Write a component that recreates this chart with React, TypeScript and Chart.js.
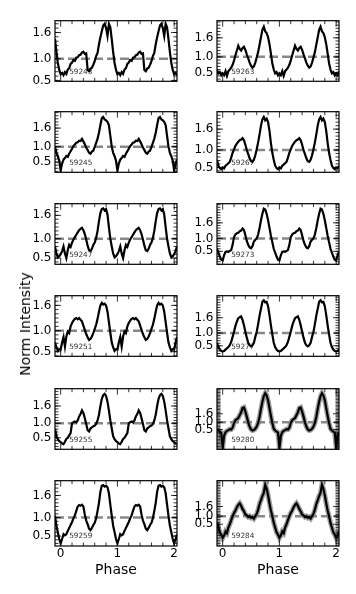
import React, { useEffect, useRef } from "react";
import { Chart, registerables } from "chart.js";

Chart.register(...registerables);

// ---------- data ----------
const PHASE_STEP = 0.025; // one period sampled at 40 phase bins
const X_MIN = -0.1;
const X_MAX = 2.05;
const X_MAJOR_TICKS = [0, 1, 2];
const Y_TICKS = [0.5, 1.0, 1.6];
const REF_LEVEL = 1.0;

const MJD_LABELS = [
  "59243", "59245", "59247", "59251", "59255", "59259",
  "59263", "59267", "59273", "59277", "59280", "59284",
];

const P59243 = [0.64, 0.67, 0.62, 0.69, 0.65, 0.75, 0.78, 0.88, 0.91, 0.97, 0.95, 1.02, 1.03, 1.08, 1.09, 1.14, 1.16, 1.11, 1.12, 0.74, 0.71, 0.77, 0.79, 0.86, 0.94, 1.06, 1.13, 1.33, 1.49, 1.63, 1.76, 1.80, 1.70, 1.52, 1.80, 1.72, 1.45, 1.15, 0.90, 0.74];
const P59245 = [0.22, 0.45, 0.58, 0.63, 0.70, 0.67, 0.77, 0.85, 0.93, 1.02, 1.07, 1.13, 1.14, 1.19, 1.18, 1.25, 1.17, 1.08, 0.97, 0.89, 0.80, 0.77, 0.84, 0.87, 0.99, 1.12, 1.26, 1.45, 1.70, 1.92, 1.96, 1.88, 1.85, 1.80, 1.70, 1.35, 1.00, 0.80, 0.69, 0.55];
const P59247 = [0.60, 0.68, 0.80, 0.62, 0.50, 0.70, 0.84, 0.79, 0.90, 0.98, 1.04, 1.10, 1.16, 1.22, 1.25, 1.28, 1.22, 1.12, 0.98, 0.82, 0.70, 0.68, 0.74, 0.84, 0.90, 1.02, 1.20, 1.45, 1.66, 1.76, 1.78, 1.73, 1.76, 1.62, 1.30, 1.00, 0.80, 0.62, 0.52, 0.55];
const P59251 = [0.55, 0.72, 0.85, 0.62, 0.86, 0.98, 0.94, 1.10, 1.18, 1.24, 1.28, 1.30, 1.27, 1.30, 1.26, 1.22, 1.12, 1.02, 0.92, 0.84, 0.78, 0.80, 0.86, 0.94, 1.04, 1.14, 1.28, 1.45, 1.60, 1.66, 1.62, 1.64, 1.60, 1.45, 1.20, 0.95, 0.72, 0.60, 0.52, 0.56];
const P59255 = [0.35, 0.30, 0.28, 0.36, 0.46, 0.50, 0.58, 0.66, 1.00, 1.04, 1.06, 1.03, 1.10, 1.24, 1.32, 1.45, 1.36, 1.18, 0.98, 0.76, 0.72, 0.82, 0.86, 0.90, 0.92, 0.98, 1.10, 1.30, 1.60, 1.85, 1.98, 2.02, 1.95, 1.75, 1.45, 1.10, 0.82, 0.55, 0.45, 0.38];
const P59259 = [0.30, 0.42, 0.55, 0.52, 0.55, 0.64, 0.72, 0.80, 0.88, 0.98, 1.06, 1.18, 1.30, 1.34, 1.32, 1.35, 1.30, 1.08, 0.92, 0.82, 0.70, 0.66, 0.72, 0.80, 0.86, 0.98, 1.18, 1.40, 1.70, 1.86, 1.88, 1.84, 1.86, 1.82, 1.66, 1.35, 1.05, 0.78, 0.60, 0.42];
const P59263 = [0.48, 0.42, 0.55, 0.40, 0.55, 0.60, 0.66, 0.75, 0.88, 1.05, 1.20, 1.35, 1.25, 1.20, 1.28, 1.32, 1.22, 1.08, 0.95, 0.82, 0.72, 0.66, 0.70, 0.82, 0.98, 1.15, 1.38, 1.62, 1.85, 1.95, 1.80, 1.75, 1.62, 1.40, 1.10, 0.80, 0.60, 0.48, 0.52, 0.42];
const P59267 = [0.50, 0.47, 0.55, 0.58, 0.62, 0.66, 0.78, 0.92, 1.02, 1.12, 1.18, 1.24, 1.28, 1.30, 1.34, 1.28, 1.15, 1.00, 0.88, 0.76, 0.68, 0.66, 0.72, 0.85, 1.02, 1.22, 1.45, 1.70, 1.88, 1.95, 1.85, 1.90, 1.80, 1.55, 1.20, 0.92, 0.72, 0.55, 0.48, 0.45];
const P59273 = [0.15, 0.35, 0.48, 0.50, 0.48, 0.52, 0.55, 0.75, 1.05, 1.15, 1.20, 1.22, 1.28, 1.30, 1.38, 1.32, 1.12, 0.90, 0.75, 0.65, 0.62, 0.70, 0.88, 0.95, 1.00, 1.15, 1.40, 1.70, 1.95, 2.15, 2.12, 1.95, 1.70, 1.40, 1.10, 0.85, 0.60, 0.45, 0.30, 0.18];
const P59277 = [0.28, 0.30, 0.35, 0.40, 0.45, 0.52, 0.65, 0.85, 1.05, 1.28, 1.45, 1.58, 1.62, 1.65, 1.52, 1.30, 1.05, 0.82, 0.62, 0.52, 0.48, 0.52, 0.62, 0.85, 1.05, 1.35, 1.68, 1.95, 2.22, 2.28, 2.20, 2.22, 2.05, 1.70, 1.30, 0.95, 0.62, 0.45, 0.35, 0.30];
const P59280 = [-0.80, 0.05, 0.30, 0.40, 0.45, 0.52, 0.50, 0.62, 0.95, 1.15, 1.22, 1.30, 1.50, 1.70, 2.00, 2.05, 1.75, 1.40, 1.00, 0.70, 0.50, 0.42, 0.45, 0.55, 0.70, 0.95, 1.40, 1.95, 2.45, 2.85, 3.05, 2.90, 2.55, 2.00, 1.45, 0.95, 0.55, 0.42, 0.35, 0.28];
const P59284 = [-0.35, -0.20, 0.05, -0.05, 0.30, 0.50, 0.75, 1.00, 1.20, 1.35, 1.55, 1.70, 1.80, 1.65, 1.45, 1.30, 1.10, 1.05, 0.95, 1.00, 0.90, 0.95, 0.85, 1.00, 1.15, 1.40, 1.75, 2.00, 2.25, 2.45, 2.95, 2.70, 2.30, 1.80, 1.35, 1.00, 0.60, 0.30, 0.00, -0.15];

const PROFILES = [P59243, P59245, P59247, P59251, P59255, P59259, P59263, P59267, P59273, P59277, P59280, P59284];
const Y_MIN = [0.48, 0.17, 0.34, 0.39, 0.10, 0.23, 0.23, 0.36, 0.00, 0.09, -0.90, -0.85];
const Y_MAX = [1.87, 2.13, 1.90, 1.83, 2.20, 2.00, 2.14, 2.10, 2.34, 2.46, 3.37, 3.20];
const WITH_ERRORS = [false, false, false, false, false, false, false, false, false, false, true, true];

// ---------- layout ----------
const FONT = "'DejaVu Sans', sans-serif";
const COL_LEFT = [55, 217];
const ROW_TOP = [16, 107, 199, 291, 384, 476];
const AX_W = 122;
const AX_H = 70;
const Y_AXIS_W = 40;
const PAD_T = 6;
const PAD_R = 6;
const PAD_B = 6;
const BOTTOM_AXIS_H = 33;

function buildSeries(profile: number[]) {
  const n = profile.length;
  const kStart = Math.round(X_MIN / PHASE_STEP);
  const kEnd = Math.round(X_MAX / PHASE_STEP);
  const pts: { x: number; y: number }[] = [];
  for (let k = kStart; k <= kEnd; k++) {
    pts.push({ x: k * PHASE_STEP, y: profile[((k % n) + n) % n] });
  }
  return pts;
}

function makeDecor(label: string) {
  return {
    id: "panelDecor",
    beforeDatasetsDraw(chart: any) {
      const { ctx, chartArea, scales } = chart;
      ctx.save();
      ctx.font = `7.3px ${FONT}`;
      ctx.fillStyle = "#333333";
      ctx.textAlign = "left";
      ctx.textBaseline = "middle";
      ctx.fillText(label, scales.x.getPixelForValue(0.15), chartArea.bottom - 9.5);
      ctx.restore();
    },
    afterDraw(chart: any) {
      const { ctx, chartArea: a, scales } = chart;
      const xs = scales.x;
      const ys = scales.y;
      ctx.save();
      ctx.strokeStyle = "#000";
      ctx.lineWidth = 0.8;
      ctx.beginPath();
      // x ticks: majors at integers, minors every 0.2
      for (let k = 0; k <= 10; k++) {
        const v = k / 5;
        const px = xs.getPixelForValue(v);
        const len = k % 5 === 0 ? 6 : 3.5;
        ctx.moveTo(px, a.bottom);
        ctx.lineTo(px, a.bottom - len);
        ctx.moveTo(px, a.top);
        ctx.lineTo(px, a.top + len);
      }
      // y minor ticks every 0.1
      for (let k = Math.ceil(ys.min * 10); k <= Math.floor(ys.max * 10); k++) {
        const py = ys.getPixelForValue(k / 10);
        ctx.moveTo(a.left, py);
        ctx.lineTo(a.left + 3.5, py);
        ctx.moveTo(a.right, py);
        ctx.lineTo(a.right - 3.5, py);
      }
      for (const v of Y_TICKS) {
        const py = ys.getPixelForValue(v);
        ctx.moveTo(a.left, py);
        ctx.lineTo(a.left + 6, py);
        ctx.moveTo(a.right, py);
        ctx.lineTo(a.right - 6, py);
      }
      ctx.stroke();
      ctx.lineWidth = 1.2;
      ctx.strokeRect(a.left, a.top, a.right - a.left, a.bottom - a.top);
      ctx.restore();
    },
  };
}

function Panel({ idx }: { idx: number }) {
  const ref = useRef<HTMLCanvasElement | null>(null);
  const col = idx < 6 ? 0 : 1;
  const row = idx % 6;
  const isBottom = row === 5;
  const width = Y_AXIS_W + AX_W + PAD_R;
  const height = PAD_T + AX_H + (isBottom ? BOTTOM_AXIS_H : PAD_B);
  const left = COL_LEFT[col] - Y_AXIS_W;
  const top = ROW_TOP[row] - PAD_T;

  useEffect(() => {
    if (!ref.current) return;
    const series = buildSeries(PROFILES[idx]);
    const datasets: any[] = [
      {
        data: series,
        borderColor: "#000000",
        borderWidth: 2.2,
        pointRadius: 0,
        tension: 0,
        order: 0,
      },
      {
        data: [
          { x: X_MIN, y: REF_LEVEL },
          { x: X_MAX, y: REF_LEVEL },
        ],
        borderColor: "#888888",
        borderWidth: 2.5,
        borderDash: [9, 4],
        pointRadius: 0,
        order: 1,
      },
    ];
    if (WITH_ERRORS[idx]) {
      datasets.push({
        data: series,
        borderColor: "#a0a0a0",
        borderWidth: 5,
        pointRadius: 0,
        tension: 0,
        order: 2,
      });
    }
    const chart = new Chart(ref.current, {
      type: "line",
      data: { datasets },
      options: {
        animation: false,
        responsive: false,
        devicePixelRatio: 1,
        events: [],
        layout: { padding: { left: 0, top: PAD_T, right: PAD_R, bottom: isBottom ? 0 : PAD_B } },
        plugins: { legend: { display: false }, tooltip: { enabled: false } },
        scales: {
          x: {
            type: "linear",
            min: X_MIN,
            max: X_MAX,
            grid: { display: false, drawTicks: false },
            border: { display: false },
            ticks: {
              display: isBottom,
              font: { family: FONT, size: 12 },
              color: "#000",
              padding: 1,
              maxRotation: 0,
              autoSkip: false,
              callback: (v: any) => String(v),
            },
            afterBuildTicks: (s: any) => {
              s.ticks = X_MAJOR_TICKS.map((v) => ({ value: v }));
            },
            afterFit: (s: any) => {
              s.height = isBottom ? BOTTOM_AXIS_H : 0;
            },
            title: {
              display: isBottom,
              text: "Phase",
              font: { family: FONT, size: 14 },
              color: "#000",
              padding: { top: 0, bottom: 0 },
            },
          },
          y: {
            type: "linear",
            min: Y_MIN[idx],
            max: Y_MAX[idx],
            grid: { display: false, drawTicks: false },
            border: { display: false },
            ticks: {
              font: { family: FONT, size: 12 },
              color: "#000",
              padding: 3.5,
              autoSkip: false,
              callback: (v: any) => Number(v).toFixed(1),
            },
            afterBuildTicks: (s: any) => {
              s.ticks = Y_TICKS.map((v) => ({ value: v }));
            },
            afterFit: (s: any) => {
              s.width = Y_AXIS_W;
            },
          },
        },
      } as any,
      plugins: [makeDecor(MJD_LABELS[idx])],
    });
    return () => chart.destroy();
  }, [idx]);

  return (
    <canvas
      ref={ref}
      width={width}
      height={height}
      style={{ position: "fixed", left, top, width, height }}
    />
  );
}

export default function App() {
  return (
    <div style={{ position: "fixed", left: 0, top: 0, width: 356, height: 594, background: "#fff" }}>
      {PROFILES.map((_, i) => (
        <Panel key={i} idx={i} />
      ))}
      <div
        style={{
          position: "fixed",
          left: 24.5,
          top: 324,
          transform: "translate(-50%, -50%) rotate(-90deg)",
          whiteSpace: "nowrap",
          fontFamily: FONT,
          fontSize: 14,
          color: "#000",
          lineHeight: 1,
        }}
      >
        Norm Intensity
      </div>
    </div>
  );
}
